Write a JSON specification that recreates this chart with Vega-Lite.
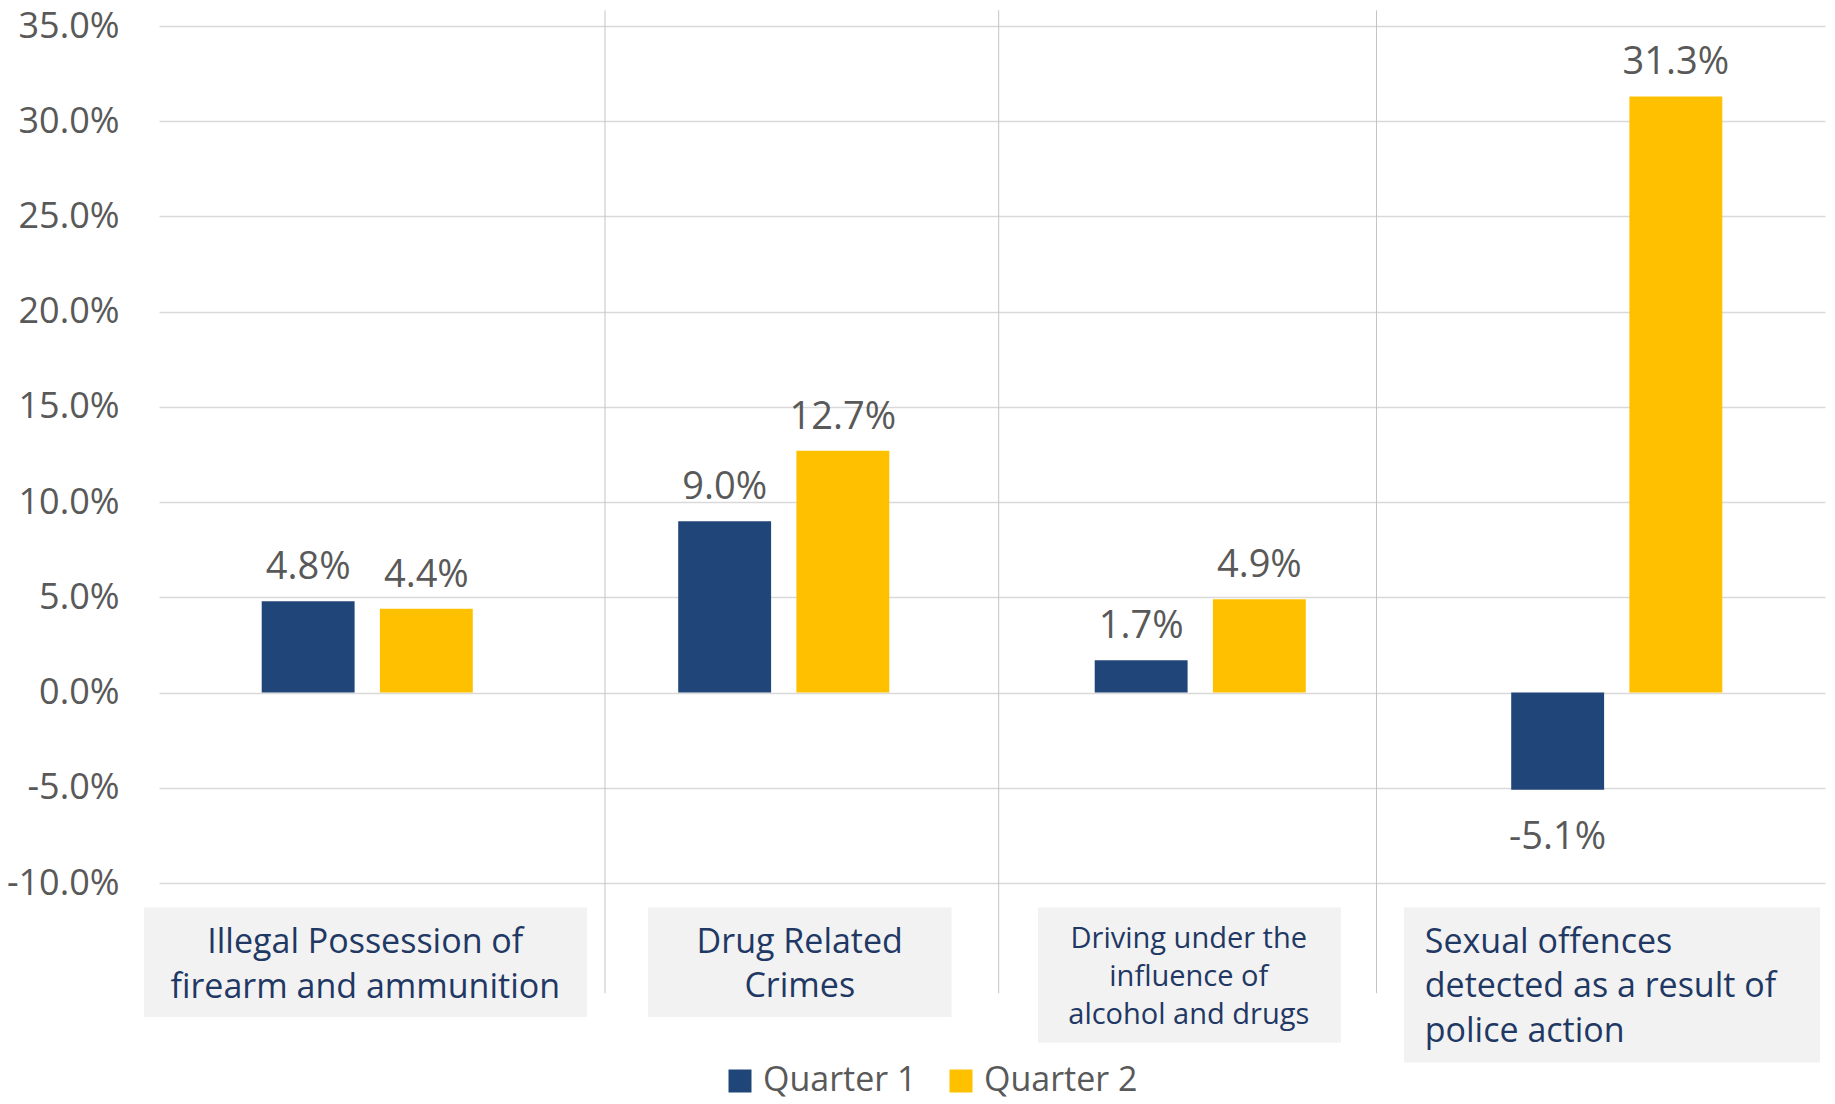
{
  "$schema": "https://vega.github.io/schema/vega-lite/v6.json",
  "width": 1666,
  "height": 857,
  "autosize": {"type": "none"},
  "padding": {"left": 159, "top": 26, "right": 10, "bottom": 221},
  "background": "white",
  "config": {"view": {"stroke": null}, "font": "Open Sans"},
  "datasets": {
    "bars": [
      {"category": "Illegal Possession of\nfirearm and ammunition", "quarter": "Quarter 1", "value": 4.8},
      {"category": "Illegal Possession of\nfirearm and ammunition", "quarter": "Quarter 2", "value": 4.4},
      {"category": "Drug Related\nCrimes", "quarter": "Quarter 1", "value": 9.0},
      {"category": "Drug Related\nCrimes", "quarter": "Quarter 2", "value": 12.7},
      {"category": "Driving under the\ninfluence of\nalcohol and drugs", "quarter": "Quarter 1", "value": 1.7},
      {"category": "Driving under the\ninfluence of\nalcohol and drugs", "quarter": "Quarter 2", "value": 4.9},
      {"category": "Sexual offences\ndetected as a result of\npolice action", "quarter": "Quarter 1", "value": -5.1},
      {"category": "Sexual offences\ndetected as a result of\npolice action", "quarter": "Quarter 2", "value": 31.3}
    ],
    "cats": [
      {"category": "Illegal Possession of\nfirearm and ammunition"},
      {"category": "Drug Related\nCrimes"},
      {"category": "Driving under the\ninfluence of\nalcohol and drugs"},
      {"category": "Sexual offences\ndetected as a result of\npolice action"}
    ]
  },
  "data": {"name": "bars"},
  "layer": [
    {
      "mark": {"type": "bar", "tooltip": false},
      "encoding": {
        "x": {"field": "category", "type": "nominal", "axis": null,
              "scale": {"domain": ["Illegal Possession of\nfirearm and ammunition", "Drug Related\nCrimes", "Driving under the\ninfluence of\nalcohol and drugs", "Sexual offences\ndetected as a result of\npolice action"], "paddingInner": 0, "paddingOuter": 0}},
        "xOffset": {"field": "quarter", "type": "nominal", "scale": {"domain": ["Quarter 1", "Quarter 2"], "paddingInner": 0.214, "paddingOuter": 0.869}},
        "y": {"field": "value", "type": "quantitative",
              "scale": {"domain": [-10, 35], "nice": false, "zero": false},
              "axis": {"title": null, "values": [-10, -5, 0, 5, 10, 15, 20, 25, 30, 35],
                       "labelExpr": "(datum.value < 0 ? '-' : '') + format(abs(datum.value), '.1f') + '%'",
                       "domain": false, "ticks": false, "tickSize": 0, "labelPadding": 40,
                       "labelFontSize": 36, "labelColor": "#595959", "labelFont": "Open Sans",
                       "grid": true, "gridColor": "#D9D9D9", "gridWidth": 1.5}},
        "color": {"field": "quarter", "type": "nominal",
                  "scale": {"domain": ["Quarter 1", "Quarter 2"], "range": ["#204679", "#FFC000"]},
                  "legend": {"title": null, "orient": "none", "legendX": 564, "legendY": 1038, "direction": "horizontal",
                             "symbolType": "square", "symbolSize": 529, "symbolStrokeWidth": 0,
                             "labelFontSize": 34, "labelColor": "#595959", "labelFont": "Open Sans", "labelLimit": 400,
                             "labelOffset": 6, "columnPadding": 27, "padding": 0}}
      }
    },
    {
      "data": {"name": "cats"},
      "transform": [{"filter": {"field": "category", "equal": "Drug Related\nCrimes"}}],
      "mark": {"type": "rule", "color": "#C4C4C4", "strokeWidth": 1, "xOffset": 29.5},
      "encoding": {"x": {"field": "category", "type": "nominal", "bandPosition": 0}, "y": {"datum": 35.82}, "y2": {"datum": -15.79}}
    },
    {
      "data": {"name": "cats"},
      "transform": [{"filter": {"field": "category", "equal": "Driving under the\ninfluence of\nalcohol and drugs"}}],
      "mark": {"type": "rule", "color": "#C4C4C4", "strokeWidth": 1, "xOffset": 6.7},
      "encoding": {"x": {"field": "category", "type": "nominal", "bandPosition": 0}, "y": {"datum": 35.82}, "y2": {"datum": -15.79}}
    },
    {
      "data": {"name": "cats"},
      "transform": [{"filter": {"field": "category", "equal": "Sexual offences\ndetected as a result of\npolice action"}}],
      "mark": {"type": "rule", "color": "#C4C4C4", "strokeWidth": 1, "xOffset": -32},
      "encoding": {"x": {"field": "category", "type": "nominal", "bandPosition": 0}, "y": {"datum": 35.82}, "y2": {"datum": -15.79}}
    },
    {
      "data": {"name": "cats"},
      "transform": [{"filter": {"field": "category", "equal": "Illegal Possession of\nfirearm and ammunition"}}],
      "mark": {"type": "bar", "color": "#F2F2F2", "width": 443, "xOffset": -1.75},
      "encoding": {"x": {"field": "category", "type": "nominal"}, "y": {"datum": -11.28}, "y2": {"datum": -17.03}}
    },
    {
      "data": {"name": "cats"},
      "transform": [{"filter": {"field": "category", "equal": "Drug Related\nCrimes"}}],
      "mark": {"type": "bar", "color": "#F2F2F2", "width": 303.5, "xOffset": 16},
      "encoding": {"x": {"field": "category", "type": "nominal"}, "y": {"datum": -11.28}, "y2": {"datum": -17.03}}
    },
    {
      "data": {"name": "cats"},
      "transform": [{"filter": {"field": "category", "equal": "Driving under the\ninfluence of\nalcohol and drugs"}}],
      "mark": {"type": "bar", "color": "#F2F2F2", "width": 303, "xOffset": -10.75},
      "encoding": {"x": {"field": "category", "type": "nominal"}, "y": {"datum": -11.28}, "y2": {"datum": -18.39}}
    },
    {
      "data": {"name": "cats"},
      "transform": [{"filter": {"field": "category", "equal": "Sexual offences\ndetected as a result of\npolice action"}}],
      "mark": {"type": "bar", "color": "#F2F2F2", "width": 416, "xOffset": -4.75},
      "encoding": {"x": {"field": "category", "type": "nominal"}, "y": {"datum": -11.28}, "y2": {"datum": -19.42}}
    },
    {
      "data": {"name": "cats"},
      "transform": [{"filter": {"field": "category", "equal": "Illegal Possession of\nfirearm and ammunition"}}],
      "mark": {"type": "text", "font": "Open Sans", "fontSize": 34, "color": "#1F3864", "lineBreak": "\n", "lineHeight": 44.5, "align": "center", "baseline": "alphabetic", "xOffset": -2},
      "encoding": {"x": {"field": "category", "type": "nominal"}, "y": {"datum": -13.69}, "text": {"field": "category"}}
    },
    {
      "data": {"name": "cats"},
      "transform": [{"filter": {"field": "category", "equal": "Drug Related\nCrimes"}}],
      "mark": {"type": "text", "font": "Open Sans", "fontSize": 34, "color": "#1F3864", "lineBreak": "\n", "lineHeight": 44, "align": "center", "baseline": "alphabetic", "xOffset": 16},
      "encoding": {"x": {"field": "category", "type": "nominal"}, "y": {"datum": -13.69}, "text": {"field": "category"}}
    },
    {
      "data": {"name": "cats"},
      "transform": [{"filter": {"field": "category", "equal": "Driving under the\ninfluence of\nalcohol and drugs"}}],
      "mark": {"type": "text", "font": "Open Sans", "fontSize": 29, "color": "#1F3864", "lineBreak": "\n", "lineHeight": 38, "align": "center", "baseline": "alphabetic", "xOffset": -11.5},
      "encoding": {"x": {"field": "category", "type": "nominal"}, "y": {"datum": -13.41}, "text": {"field": "category"}}
    },
    {
      "data": {"name": "cats"},
      "transform": [{"filter": {"field": "category", "equal": "Sexual offences\ndetected as a result of\npolice action"}}],
      "mark": {"type": "text", "font": "Open Sans", "fontSize": 34, "color": "#1F3864", "lineBreak": "\n", "lineHeight": 44.2, "align": "left", "baseline": "alphabetic", "xOffset": -192},
      "encoding": {"x": {"field": "category", "type": "nominal"}, "y": {"datum": -13.69}, "text": {"field": "category"}}
    },
    {
      "transform": [
        {"filter": "datum.value >= 0"},
        {"calculate": "format(datum.value, '.1f') + '%'", "as": "label"}
      ],
      "mark": {"type": "text", "font": "Open Sans", "fontSize": 38, "color": "#595959", "baseline": "alphabetic", "dy": -22},
      "encoding": {
        "x": {"field": "category", "type": "nominal"},
        "xOffset": {"field": "quarter", "type": "nominal"},
        "y": {"field": "value", "type": "quantitative"},
        "text": {"field": "label"}
      }
    },
    {
      "transform": [
        {"filter": "datum.value < 0"},
        {"calculate": "'-' + format(abs(datum.value), '.1f') + '%'", "as": "label"}
      ],
      "mark": {"type": "text", "font": "Open Sans", "fontSize": 38, "color": "#595959", "baseline": "alphabetic", "dy": 59},
      "encoding": {
        "x": {"field": "category", "type": "nominal"},
        "xOffset": {"field": "quarter", "type": "nominal"},
        "y": {"field": "value", "type": "quantitative"},
        "text": {"field": "label"}
      }
    }
  ]
}
